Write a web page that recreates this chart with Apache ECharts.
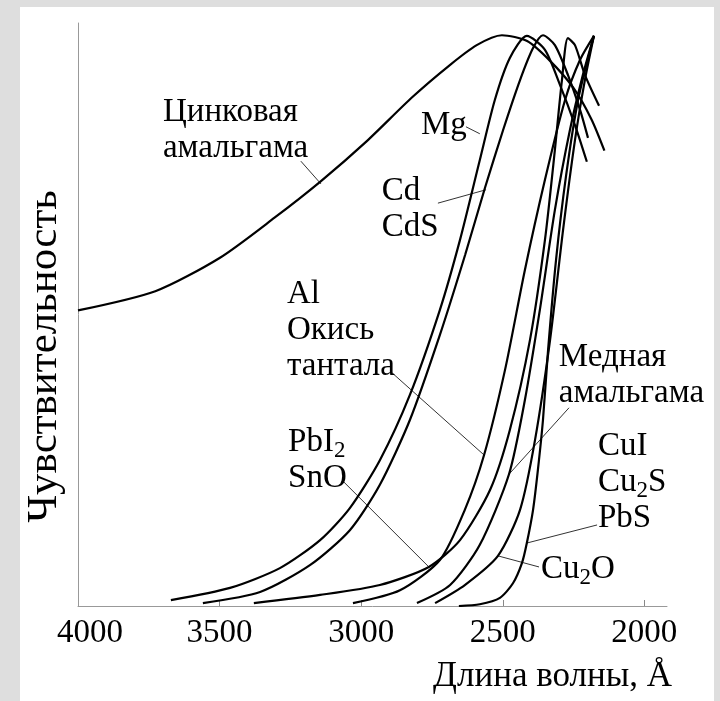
<!DOCTYPE html>
<html><head><meta charset="utf-8">
<script src="https://cdn.jsdelivr.net/npm/echarts@6/dist/echarts.min.js"></script>
<style>html,body{margin:0;padding:0;background:#dedede}#c{width:720px;height:701px}</style>
</head><body><div id="c"></div>
<script>
// wavelength (Å), relative sensitivity
const zinc = [[4000,50.7],[3727,54.0],[3500,59.7],[3306,66.6],[3144,72.8],[2981,79.7],[2819,87.3],[2689,92.7],[2592,96.2],[2503,97.9],[2414,96.9],[2333,93.5],[2251,88.9],[2187,83.5],[2141,78.1]];
const mg = [[3672,1.0],[3463,3.1],[3287,6.5],[3145,11.3],[3040,16.8],[2934,25.0],[2828,36.2],[2722,50.8],[2651,62.8],[2581,76.5],[2528,86.8],[2475,94.0],[2415,97.8],[2351,95.4],[2298,89.4],[2245,82.5],[2203,76.2]];
const cd = [[3559,0.5],[3357,2.4],[3181,7.0],[3040,13.0],[2934,20.8],[2828,31.9],[2722,46.5],[2633,60.2],[2563,71.7],[2499,81.6],[2439,90.2],[2393,95.7],[2358,97.9],[2316,96.2],[2270,91.1],[2227,85.1],[2199,80.3]];
const pbi2 = [[3379,0.5],[3145,1.9],[2934,3.6],[2761,6.7],[2651,11.3],[2545,19.9],[2475,30.2],[2404,45.6],[2351,62.8],[2316,78.2],[2291,90.2],[2270,97.4],[2245,96.2],[2210,91.1],[2160,85.8]];
const al = [[3029,0.5],[2863,2.7],[2722,7.9],[2634,16.5],[2566,25.9],[2492,40.5],[2422,57.6],[2351,73.1],[2280,86.8],[2227,93.7],[2178,97.8]];
const cuAmalgam = [[2803,0.5],[2686,3.6],[2581,10.5],[2478,22.6],[2422,35.3],[2369,50.8],[2316,67.9],[2263,81.6],[2217,91.1],[2178,97.8]];
const cu2o = [[2739,0.5],[2634,3.6],[2517,8.6],[2439,16.5],[2386,28.5],[2333,45.6],[2287,64.5],[2245,79.9],[2210,90.2],[2178,97.8]];
const pbs = [[2655,0.0],[2581,0.3],[2510,1.4],[2464,3.9],[2432,7.4],[2415,10.8],[2393,16.5],[2376,23.3],[2358,31.9],[2340,43.9],[2312,59.3],[2277,73.6],[2234,86.8],[2178,97.8]];
const curves = [zinc, mg, cd, pbi2, al, cuAmalgam, cu2o, pbs];

// leader lines: [from, to] in data units
const leaders = [
  [[3213,76.3],[3142,72.4]],
  [[2630,82.2],[2581,81.0]],
  [[2729,69.1],[2559,71.4]],
  [[2898,40.3],[2566,25.9]],
  [[3068,21.6],[2761,6.7]],
  [[2266,34.0],[2478,22.6]],
  [[2167,13.9],[2415,10.8]],
  [[2372,6.7],[2517,8.6]]
];
// annotation texts and their anchor (top-left) in data units
const noteTexts = [
  '{t|Цинковая}\n{t|амальгама}',
  '{t|Mg}',
  '{t|Cd}\n{t|CdS}',
  '{t|Al}\n{t|Окись}\n{t|тантала}',
  '{t|PbI}{s|2}\n{t|SnO}',
  '{t|Медная}\n{t|амальгама}',
  '{t|CuI}\n{t|Cu}{s|2}{t|S}\n{t|PbS}',
  '{t|Cu}{s|2}{t|O}'
];
const noteAnchors = [[3700,87.7],[2789,85.6],[2927,74.3],[3262,56.6],[3258,31.2],[2302,45.8],[2164,30.5],[2365,9.4]];

const xTicks = [2000,2500,3000,3500];
const xLabels = [2000,2500,3000,3500,4000];
const xName = 'Длина волны, Å';
const yName = 'Чувствительность';

const FONT = '"Liberation Serif","Times New Roman",serif';
const chart = echarts.init(document.getElementById('c'), null, {renderer:'canvas'});
const series = curves.map(d => ({type:'line', data:d, smooth:0.25, symbol:'none', lineStyle:{color:'#000', width:2.2}, silent:true, z:3}));
leaders.forEach(d => series.push({type:'line', data:d, symbol:'none', lineStyle:{color:'#333', width:1}, silent:true, z:2}));
const bgRect = {type:'rect', shape:{x:20,y:7,width:694,height:694}, style:{fill:'#fff'}, z:-10, silent:true};
chart.setOption({
  animation:false,
  backgroundColor:'#dedede',
  grid:{left:78, right:53, top:23, bottom:95, containLabel:false, outerBoundsMode:'none'},
  xAxis:{type:'value', inverse:true, min:1920, max:4000,
    axisLine:{lineStyle:{color:'#999', width:1}},
    axisTick:{inside:true, length:6, customValues:xTicks, lineStyle:{color:'#888'}},
    axisLabel:{customValues:xLabels, color:'#000', fontFamily:FONT, fontSize:33, margin:11,
      formatter: v => v===4000 ? '{f|4000}' : String(v),
      rich:{f:{fontFamily:FONT, fontSize:33, color:'#000', padding:[0,0,0,24]}}},
    splitLine:{show:false},
    name:xName, nameLocation:'start', nameGap:5,
    nameTextStyle:{color:'#000', fontFamily:FONT, fontSize:35, align:'right', verticalAlign:'top', padding:[53,0,0,0]}
  },
  yAxis:{type:'value', min:0, max:100,
    axisLine:{show:true, lineStyle:{color:'#999', width:1}},
    axisTick:{show:false}, axisLabel:{show:false}, splitLine:{show:false},
    name:yName, nameLocation:'middle', nameGap:12,
    nameTextStyle:{color:'#000', fontFamily:FONT, fontSize:43, padding:[0,84,0,0]}
  },
  graphic:[bgRect],
  series:series
});
const notes = noteTexts.map((txt,i) => {
  const p = chart.convertToPixel({gridIndex:0}, noteAnchors[i]);
  return {type:'text', x:p[0], y:p[1], z:10, silent:true,
    style:{text:txt, fill:'#000', font:'33px '+FONT, textAlign:'left', textVerticalAlign:'top',
      rich:{t:{fontFamily:FONT, fontSize:33, lineHeight:36, fill:'#000'},
            s:{fontFamily:FONT, fontSize:23, lineHeight:36, fill:'#000', padding:[18,0,0,0]}}}};
});
chart.setOption({graphic:[bgRect].concat(notes)});
</script></body></html>
